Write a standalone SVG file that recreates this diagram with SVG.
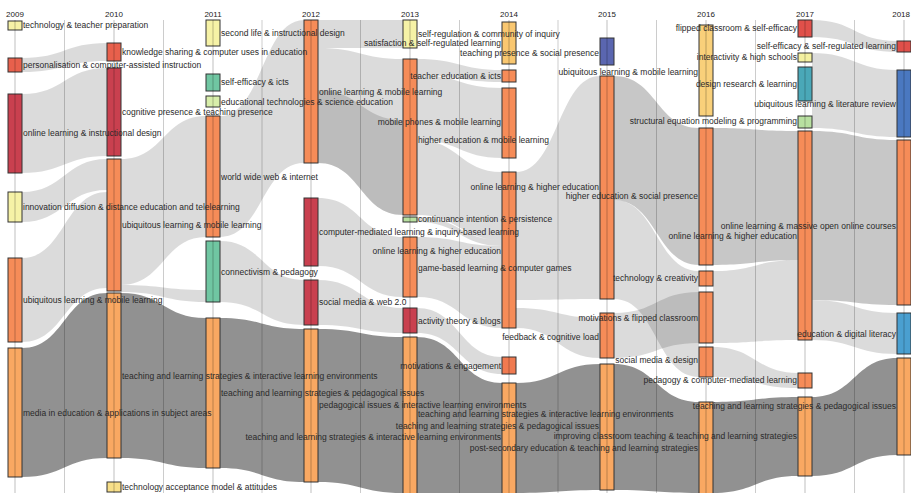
<svg xmlns="http://www.w3.org/2000/svg" width="911" height="493" viewBox="0 0 911 493">
<style>
.yr{font-family:"Liberation Sans",Arial,sans-serif;font-size:8px;fill:#222;text-anchor:middle;dominant-baseline:central}
.lb{font-family:"Liberation Sans",Arial,sans-serif;font-size:8.5px;fill:#2a2a2a;dominant-baseline:central}
.e{text-anchor:end}
.fl{fill:#000;fill-opacity:.14}
.fm{fill:#000;fill-opacity:.22}
.fd{fill:#000;fill-opacity:.43}
.gl{stroke:#000;stroke-opacity:.2;stroke-width:1}
.n rect{stroke:#333;stroke-width:1}
.ax{stroke:#000;stroke-opacity:.25;stroke-width:1}
</style>
<rect width="911" height="493" fill="#fff"/>
<g id="connectors">
<path class="fl" d="M22 58C64.5 58 64.5 43 107 43L107 61C64.5 61 64.5 72 22 72Z"/>
<path class="fl" d="M22 94C64.5 94 64.5 68 107 68L107 156C64.5 156 64.5 173 22 173Z"/>
<path class="fl" d="M22 192C64.5 192 64.5 159 107 159L107 190C64.5 190 64.5 222 22 222Z"/>
<path class="fl" d="M22 258C64.5 258 64.5 192 107 192L107 288C64.5 288 64.5 342 22 342Z"/>
<path class="fd" d="M22 348C64.5 348 64.5 293 107 293L107 458C64.5 458 64.5 477 22 477Z"/>
<path class="fl" d="M121 159C163.5 159 163.5 116 206 116L206 237C163.5 237 163.5 285 121 285Z"/>
<path class="fl" d="M121 285C163.5 285 163.5 290 206 290L206 302C163.5 302 163.5 292 121 292Z"/>
<path class="fd" d="M121 293C163.5 293 163.5 318 206 318L206 468C163.5 468 163.5 458 121 458Z"/>
<path class="fl" d="M220 116C262 116 262 20 304 20L304 163C262 163 262 237 220 237Z"/>
<path class="fl" d="M220 241C262 241 262 280 304 280L304 325C262 325 262 302 220 302Z"/>
<path class="fd" d="M220 318C262 318 262 329 304 329L304 482C262 482 262 468 220 468Z"/>
<path class="fl" d="M318 20C360.5 20 360.5 20 403 20L403 48C360.5 48 360.5 48 318 48Z"/>
<path class="fl" d="M318 48C360.5 48 360.5 59 403 59L403 215C360.5 215 360.5 163 318 163Z"/>
<path class="fl" d="M318 90C360.5 90 360.5 120 403 120L403 215C360.5 215 360.5 163 318 163Z"/>
<path class="fl" d="M318 198C360.5 198 360.5 237 403 237L403 297C360.5 297 360.5 266 318 266Z"/>
<path class="fl" d="M318 280C360.5 280 360.5 308 403 308L403 333C360.5 333 360.5 325 318 325Z"/>
<path class="fd" d="M318 329C360.5 329 360.5 337 403 337L403 493C360.5 493 360.5 482 318 482Z"/>
<path class="fl" d="M417 59C459.5 59 459.5 70 502 70L502 82C459.5 82 459.5 75 417 75Z"/>
<path class="fl" d="M417 75C459.5 75 459.5 88 502 88L502 158C459.5 158 459.5 140 417 140Z"/>
<path class="fl" d="M417 140C459.5 140 459.5 172 502 172L502 240C459.5 240 459.5 215 417 215Z"/>
<path class="fl" d="M417 217C459.5 217 459.5 240 502 240L502 246C459.5 246 459.5 222 417 222Z"/>
<path class="fl" d="M417 237C459.5 237 459.5 246 502 246L502 328C459.5 328 459.5 297 417 297Z"/>
<path class="fl" d="M417 308C459.5 308 459.5 357 502 357L502 374C459.5 374 459.5 333 417 333Z"/>
<path class="fd" d="M417 337C459.5 337 459.5 383 502 383L502 493C459.5 493 459.5 493 417 493Z"/>
<path class="fl" d="M516 172C558 172 558 76 600 76L600 299C558 299 558 300 516 300Z"/>
<path class="fl" d="M516 308C558 308 558 318 600 318L600 358C558 358 558 328 516 328Z"/>
<path class="fd" d="M516 383C558 383 558 364 600 364L600 490C558 490 558 493 516 493Z"/>
<path class="fm" d="M614 76C656.5 76 656.5 128 699 128L699 265C656.5 265 656.5 200 614 200Z"/>
<path class="fl" d="M614 200C656.5 200 656.5 271 699 271L699 377C656.5 377 656.5 299 614 299Z"/>
<path class="fl" d="M614 313C656.5 313 656.5 292 699 292L699 343C656.5 343 656.5 358 614 358Z"/>
<path class="fd" d="M614 364C656.5 364 656.5 402 699 402L699 493C656.5 493 656.5 490 614 490Z"/>
<path class="fm" d="M713 128C755.5 128 755.5 131 798 131L798 260C755.5 260 755.5 265 713 265Z"/>
<path class="fl" d="M713 271C755.5 271 755.5 260 798 260L798 340C755.5 340 755.5 343 713 343Z"/>
<path class="fl" d="M713 347C755.5 347 755.5 373 798 373L798 388C755.5 388 755.5 377 713 377Z"/>
<path class="fd" d="M713 402C755.5 402 755.5 397 798 397L798 476C755.5 476 755.5 493 713 493Z"/>
<path class="fl" d="M812 20C854.5 20 854.5 41 897 41L897 52C854.5 52 854.5 37 812 37Z"/>
<path class="fl" d="M812 53C854.5 53 854.5 70 897 70L897 137C854.5 137 854.5 128 812 128Z"/>
<path class="fm" d="M812 131C854.5 131 854.5 140 897 140L897 305C854.5 305 854.5 300 812 300Z"/>
<path class="fl" d="M812 300C854.5 300 854.5 313 897 313L897 354C854.5 354 854.5 340 812 340Z"/>
<path class="fd" d="M812 397C854.5 397 854.5 358 897 358L897 455C854.5 455 854.5 476 812 476Z"/>
</g>
<g id="grid">
<line class="gl" x1="64.5" y1="20" x2="64.5" y2="493"/>
<line class="gl" x1="163.5" y1="20" x2="163.5" y2="493"/>
<line class="gl" x1="262" y1="20" x2="262" y2="493"/>
<line class="gl" x1="360.5" y1="20" x2="360.5" y2="493"/>
<line class="gl" x1="459.5" y1="20" x2="459.5" y2="493"/>
<line class="gl" x1="558" y1="20" x2="558" y2="493"/>
<line class="gl" x1="656.5" y1="20" x2="656.5" y2="493"/>
<line class="gl" x1="755.5" y1="20" x2="755.5" y2="493"/>
<line class="gl" x1="854.5" y1="20" x2="854.5" y2="493"/>
</g>
<g id="years">
<text class="yr" x="15" y="14">2009</text>
<text class="yr" x="114" y="14">2010</text>
<text class="yr" x="213" y="14">2011</text>
<text class="yr" x="311" y="14">2012</text>
<text class="yr" x="410" y="14">2013</text>
<text class="yr" x="509" y="14">2014</text>
<text class="yr" x="607" y="14">2015</text>
<text class="yr" x="706" y="14">2016</text>
<text class="yr" x="805" y="14">2017</text>
<text class="yr" x="910" y="14" style="text-anchor:end">2018</text>
</g>
<g id="y2009" class="n">
<rect x="8" y="21" width="14" height="9" fill="#f6f2a6"/>
<rect x="8" y="58" width="14" height="14" fill="#e8604c"/>
<rect x="8" y="94" width="14" height="79" fill="#c9404f"/>
<rect x="8" y="192" width="14" height="30" fill="#f6f2a6"/>
<rect x="8" y="258" width="14" height="84" fill="#f68c58"/>
<rect x="8" y="348" width="14" height="129" fill="#f9a862"/>
</g>
<g id="y2010" class="n">
<rect x="107" y="43" width="14" height="18" fill="#e8604c"/>
<rect x="107" y="68" width="14" height="88" fill="#c9404f"/>
<rect x="107" y="159" width="14" height="132" fill="#f68c58"/>
<rect x="107" y="293" width="14" height="165" fill="#f9a862"/>
<rect x="107" y="482" width="14" height="10" fill="#f8df88"/>
</g>
<g id="y2011" class="n">
<rect x="206" y="20" width="14" height="26" fill="#f6f2a6"/>
<rect x="206" y="74" width="14" height="17" fill="#70c6a2"/>
<rect x="206" y="96" width="14" height="11" fill="#d8eeaa"/>
<rect x="206" y="116" width="14" height="121" fill="#f68c58"/>
<rect x="206" y="241" width="14" height="61" fill="#70c6a2"/>
<rect x="206" y="318" width="14" height="150" fill="#f9a862"/>
</g>
<g id="y2012" class="n">
<rect x="304" y="20" width="14" height="143" fill="#f68c58"/>
<rect x="304" y="198" width="14" height="68" fill="#c9404f"/>
<rect x="304" y="280" width="14" height="45" fill="#c9404f"/>
<rect x="304" y="329" width="14" height="153" fill="#f9a862"/>
</g>
<g id="y2013" class="n">
<rect x="403" y="20" width="14" height="28" fill="#f6f2a6"/>
<rect x="403" y="59" width="14" height="156" fill="#f68c58"/>
<rect x="403" y="217" width="14" height="5" fill="#b8e0a0"/>
<rect x="403" y="237" width="14" height="60" fill="#f68c58"/>
<rect x="403" y="308" width="14" height="25" fill="#c9404f"/>
<rect x="403" y="337" width="14" height="160" fill="#f9a862"/>
</g>
<g id="y2014" class="n">
<rect x="502" y="22" width="14" height="42" fill="#f9c770"/>
<rect x="502" y="70" width="14" height="12" fill="#f68c58"/>
<rect x="502" y="88" width="14" height="70" fill="#f68c58"/>
<rect x="502" y="172" width="14" height="156" fill="#f68c58"/>
<rect x="502" y="357" width="14" height="17" fill="#f07a50"/>
<rect x="502" y="383" width="14" height="114" fill="#f9a862"/>
</g>
<g id="y2015" class="n">
<rect x="600" y="38" width="14" height="27" fill="#5a66b0"/>
<rect x="600" y="76" width="14" height="223" fill="#f68c58"/>
<rect x="600" y="313" width="14" height="45" fill="#f68c58"/>
<rect x="600" y="364" width="14" height="126" fill="#f9a862"/>
</g>
<g id="y2016" class="n">
<rect x="699" y="25" width="14" height="91" fill="#f9d07a"/>
<rect x="699" y="128" width="14" height="137" fill="#f68c58"/>
<rect x="699" y="271" width="14" height="15" fill="#f68c58"/>
<rect x="699" y="292" width="14" height="51" fill="#f68c58"/>
<rect x="699" y="347" width="14" height="30" fill="#f68c58"/>
<rect x="699" y="402" width="14" height="95" fill="#f9a862"/>
</g>
<g id="y2017" class="n">
<rect x="798" y="20" width="14" height="17" fill="#e0504a"/>
<rect x="798" y="53" width="14" height="9" fill="#f4f0a0"/>
<rect x="798" y="67" width="14" height="34" fill="#4aa8b8"/>
<rect x="798" y="116" width="14" height="12" fill="#b8e0a0"/>
<rect x="798" y="131" width="14" height="209" fill="#f68c58"/>
<rect x="798" y="373" width="14" height="15" fill="#f68c58"/>
<rect x="798" y="397" width="14" height="79" fill="#f9a862"/>
</g>
<g id="y2018" class="n">
<rect x="897" y="41" width="14" height="11" fill="#e0504a"/>
<rect x="897" y="70" width="14" height="67" fill="#4a78c0"/>
<rect x="897" y="140" width="14" height="165" fill="#f68c58"/>
<rect x="897" y="313" width="14" height="41" fill="#4a9fd0"/>
<rect x="897" y="358" width="14" height="97" fill="#f9a862"/>
</g>
<g id="axes">
<line class="ax" x1="15" y1="20" x2="15" y2="493"/>
<line class="ax" x1="114" y1="20" x2="114" y2="493"/>
<line class="ax" x1="213" y1="20" x2="213" y2="493"/>
<line class="ax" x1="311" y1="20" x2="311" y2="493"/>
<line class="ax" x1="410" y1="20" x2="410" y2="493"/>
<line class="ax" x1="509" y1="20" x2="509" y2="493"/>
<line class="ax" x1="607" y1="20" x2="607" y2="493"/>
<line class="ax" x1="706" y1="20" x2="706" y2="493"/>
<line class="ax" x1="805" y1="20" x2="805" y2="493"/>
<line class="ax" x1="904" y1="20" x2="904" y2="493"/>
</g>
<g id="labels">
<text class="lb" x="23" y="25">technology &amp; teacher preparation</text>
<text class="lb" x="23" y="65">personalisation &amp; computer-assisted instruction</text>
<text class="lb" x="23" y="133">online learning &amp; instructional design</text>
<text class="lb" x="23" y="207">innovation diffusion &amp; distance education and telelearning</text>
<text class="lb" x="23" y="300">ubiquitous learning &amp; mobile learning</text>
<text class="lb" x="23" y="413">media in education &amp; applications in subject areas</text>
<text class="lb" x="122" y="52">knowledge sharing &amp; computer uses in education</text>
<text class="lb" x="122" y="112">cognitive presence &amp; teaching presence</text>
<text class="lb" x="122" y="225">ubiquitous learning &amp; mobile learning</text>
<text class="lb" x="122" y="376">teaching and learning strategies &amp; interactive learning environments</text>
<text class="lb" x="122" y="487">technology acceptance model &amp; attitudes</text>
<text class="lb" x="221" y="33">second life &amp; instructional design</text>
<text class="lb" x="221" y="82">self-efficacy &amp; icts</text>
<text class="lb" x="221" y="102">educational technologies &amp; science education</text>
<text class="lb" x="221" y="177">world wide web &amp; internet</text>
<text class="lb" x="221" y="272">connectivism &amp; pedagogy</text>
<text class="lb" x="221" y="393">teaching and learning strategies &amp; pedagogical issues</text>
<text class="lb" x="319" y="92">online learning &amp; mobile learning</text>
<text class="lb" x="319" y="232">computer-mediated learning &amp; inquiry-based learning</text>
<text class="lb" x="319" y="302">social media &amp; web 2.0</text>
<text class="lb" x="319" y="405">pedagogical issues &amp; interactive learning environments</text>
<text class="lb" x="418" y="34">self-regulation &amp; community of inquiry</text>
<text class="lb" x="418" y="140">higher education &amp; mobile learning</text>
<text class="lb" x="418" y="219">continuance intention &amp; persistence</text>
<text class="lb" x="418" y="268">game-based learning &amp; computer games</text>
<text class="lb" x="418" y="321">activity theory &amp; blogs</text>
<text class="lb" x="418" y="414">teaching and learning strategies &amp; interactive learning environments</text>
<text class="lb e" x="501" y="43">satisfaction &amp; self-regulated learning</text>
<text class="lb e" x="501" y="76">teacher education &amp; icts</text>
<text class="lb e" x="501" y="122">mobile phones &amp; mobile learning</text>
<text class="lb e" x="501" y="251">online learning &amp; higher education</text>
<text class="lb e" x="501" y="366">motivations &amp; engagement</text>
<text class="lb e" x="501" y="437">teaching and learning strategies &amp; interactive learning environments</text>
<text class="lb e" x="599" y="53">teaching presence &amp; social presence</text>
<text class="lb e" x="599" y="187">online learning &amp; higher education</text>
<text class="lb e" x="599" y="337">feedback &amp; cognitive load</text>
<text class="lb e" x="599" y="426">teaching and learning strategies &amp; pedagogical issues</text>
<text class="lb e" x="698" y="72">ubiquitous learning &amp; mobile learning</text>
<text class="lb e" x="698" y="196">higher education &amp; social presence</text>
<text class="lb e" x="698" y="278">technology &amp; creativity</text>
<text class="lb e" x="698" y="318">motivations &amp; flipped classroom</text>
<text class="lb e" x="698" y="360">social media &amp; design</text>
<text class="lb e" x="698" y="448">post-secondary education &amp; teaching and learning strategies</text>
<text class="lb e" x="797" y="28">flipped classroom &amp; self-efficacy</text>
<text class="lb e" x="797" y="57">interactivity &amp; high schools</text>
<text class="lb e" x="797" y="84">design research &amp; learning</text>
<text class="lb e" x="797" y="121">structural equation modeling &amp; programming</text>
<text class="lb e" x="797" y="236">online learning &amp; higher education</text>
<text class="lb e" x="797" y="380">pedagogy &amp; computer-mediated learning</text>
<text class="lb e" x="797" y="436">improving classroom teaching &amp; teaching and learning strategies</text>
<text class="lb e" x="896" y="46">self-efficacy &amp; self-regulated learning</text>
<text class="lb e" x="896" y="104">ubiquitous learning &amp; literature review</text>
<text class="lb e" x="896" y="226">online learning &amp; massive open online courses</text>
<text class="lb e" x="896" y="334">education &amp; digital literacy</text>
<text class="lb e" x="896" y="406">teaching and learning strategies &amp; pedagogical issues</text>
</g>
</svg>
